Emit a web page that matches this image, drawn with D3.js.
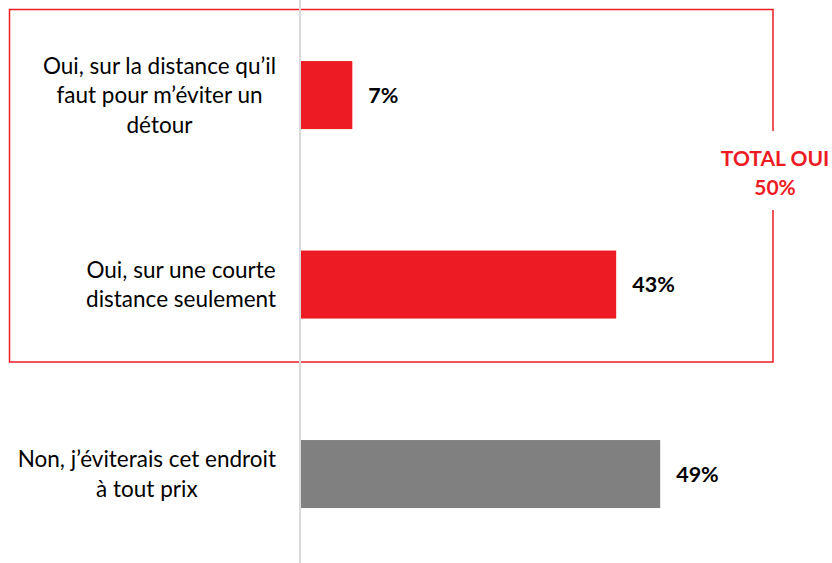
<!DOCTYPE html>
<html>
<head>
<meta charset="utf-8">
<script src="https://cdn.jsdelivr.net/npm/d3@7"></script>
<style>
  html, body { margin: 0; padding: 0; background: #fff; }
  svg { display: block; }
  text { font-family: Lato, "Open Sans", sans-serif; }
</style>
</head>
<body>
<div id="chart"></div>
<script>
// Responses (share of respondents, %)
const categories = [
  ["Oui, sur la distance qu\u2019il", "faut pour m\u2019\u00e9viter un", "d\u00e9tour"],
  ["Oui, sur une courte", "distance seulement"],
  ["Non, j\u2019\u00e9viterais cet endroit", "\u00e0 tout prix"]
];
const values = [7, 43, 49];
const barColors = ["#ed1c24", "#ed1c24", "#808080"];
const totalLabel = ["TOTAL OUI", "50%"];

const W = 832, H = 563;
const svg = d3.select("#chart").append("svg")
  .attr("width", W).attr("height", H);

const x = d3.scaleLinear().domain([0, 100]).range([301, 301 + 733]);
const y = d3.scaleBand().domain(d3.range(categories.length))
  .range([0.3, 568.8]).paddingInner(0.641).paddingOuter(0.3205);

// "Oui" grouping frame, open on the right around its caption
const red = "#ed1c24";
const frame = svg.append("g").attr("fill", "none").attr("stroke", red).attr("stroke-width", 1.5);
frame.append("path").attr("d", "M773,131 V9.5 H9.5 V362 H773 V210");

// vertical baseline
svg.append("line")
  .attr("x1", 300).attr("x2", 300).attr("y1", 0).attr("y2", H)
  .attr("stroke", "#d9d9d9").attr("stroke-width", 2);

// bars
svg.append("g").selectAll("rect").data(values).join("rect")
  .attr("x", x(0))
  .attr("y", (d, i) => y(i))
  .attr("width", d => x(d) - x(0))
  .attr("height", y.bandwidth())
  .attr("fill", (d, i) => barColors[i]);

// value labels
svg.append("g").selectAll("text").data(values).join("text")
  .attr("x", d => x(d) + 16)
  .attr("y", (d, i) => y(i) + y.bandwidth() / 2)
  .attr("dy", "0.36em")
  .attr("font-size", 21.5)
  .attr("font-weight", 700)
  .attr("fill", "#000")
  .text(d => d + "%");

// category labels: block right-aligned to the axis, lines centred in the block
const lineH = 29.5;
const labelRight = 276;
categories.forEach((lines, i) => {
  const g = svg.append("g");
  const cy = y(i) + y.bandwidth() / 2;
  const texts = g.selectAll("text").data(lines).join("text")
    .attr("font-size", 22.5)
    .attr("fill", "#000")
    .attr("text-anchor", "middle")
    .attr("y", (d, j) => cy + (j - (lines.length - 1) / 2) * lineH)
    .attr("dy", "0.36em")
    .text(d => d);
  let maxW = 0;
  texts.each(function () { maxW = Math.max(maxW, this.getComputedTextLength()); });
  texts.attr("x", labelRight - maxW / 2);
});

// total caption
svg.append("g").selectAll("text").data(totalLabel).join("text")
  .attr("x", 775)
  .attr("y", (d, j) => 158 + j * 29)
  .attr("dy", "0.36em")
  .attr("text-anchor", "middle")
  .attr("font-size", 21)
  .attr("font-weight", 700)
  .attr("fill", red)
  .text(d => d);
</script>
</body>
</html>
